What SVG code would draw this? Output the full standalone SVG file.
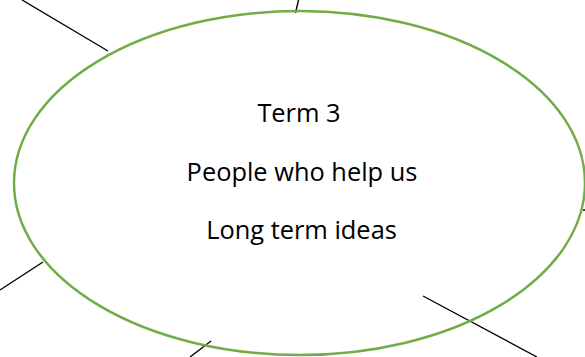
<svg xmlns="http://www.w3.org/2000/svg" width="585" height="357" viewBox="0 0 585 357">
<style>
.conn{stroke:#000;stroke-width:1.4;fill:none;stroke-linecap:butt}
.oval{fill:none;stroke:#70AD47;stroke-width:2.5}
.t{font-family:"Open Sans","Noto Sans",sans-serif;font-size:25.4px;fill:#000;text-anchor:middle}
</style>
<rect width="585" height="357" fill="#fff"/>
<g id="connectors">
<line class="conn" x1="22" y1="0" x2="108" y2="51"/>
<line class="conn" x1="298.5" y1="0" x2="295.5" y2="13"/>
<line class="conn" x1="0" y1="290" x2="43" y2="262"/>
<line class="conn" x1="190" y1="357" x2="211" y2="341"/>
<line class="conn" x1="423" y1="296" x2="537" y2="357"/>
<line class="conn" x1="583" y1="210" x2="585" y2="210"/>
</g>
<g id="center">
<ellipse class="oval" cx="299.5" cy="183" rx="285.5" ry="172"/>
<text class="t" x="299" y="121.5">Term 3</text>
<text class="t" x="302" y="180.5">People who help us</text>
<text class="t" x="301.5" y="238.5">Long term ideas</text>
</g>
</svg>
